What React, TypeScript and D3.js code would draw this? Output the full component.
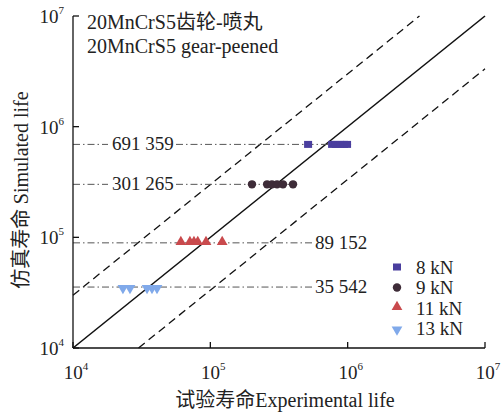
import React from 'react';
import * as d3 from 'd3';

// experimental lives (x) for each load, simulated life (y) is one value per load
const loads = ['8 kN', '9 kN', '11 kN', '13 kN'];
const simLife = [691359, 301265, 89152, 35542];
const simLabels = ['691 359', '301 265', '89 152', '35 542'];
const exp8 = [515000, 770000, 820000, 880000, 940000, 990000];
const exp9 = [201000, 259000, 281000, 306000, 338000, 400000];
const exp11 = [61000, 71000, 76000, 81000, 93000, 122000];
const exp13 = [23100, 26000, 34600, 37600, 40900];
const tickVals = [1e4, 1e5, 1e6, 1e7];
const tickExp = ['4', '5', '6', '7'];

const colors = ['#4a3e9e', '#3e2c38', '#c94a4d', '#80a9ea'];
const serif = '"Liberation Serif", "Times New Roman", serif';
const cjk = '"Noto Sans CJK SC", sans-serif';

const W = 504;
const H = 413;

const Marker = ({ kind, x, y, color }: { kind: number; x: number; y: number; color: string }) => {
  if (kind === 0) return <rect x={x - 4} y={y - 3.5} width={8} height={7} fill={color} />;
  if (kind === 1) return <circle cx={x} cy={y} r={4.2} fill={color} />;
  const sym = d3.symbol().type(d3.symbolTriangle).size(50)();
  return <path d={sym || ''} transform={`translate(${x},${y + (kind === 3 ? 1 : -1)}) rotate(${kind === 3 ? 180 : 0})`} fill={color} />;
};

export default function App() {
  const x = d3.scaleLog().domain([1e4, 1e7]).range([73, 485]);
  const y = d3.scaleLog().domain([1e4, 1e7]).range([348, 16]);
  const series = [exp8, exp9, exp11, exp13];

  // ±3x scatter band
  const diag = [1e4, 1e7];
  const upper: [number, number][] = [[1e4, 3e4], [1e7 / 3, 1e7]];
  const lower: [number, number][] = [[3e4, 1e4], [1e7, 1e7 / 3]];

  return (
    <svg width={W} height={H} style={{ position: 'absolute', left: 0, top: 0, background: '#fff' }}>
      {/* reference lines */}
      <line x1={x(diag[0])} y1={y(diag[0])} x2={x(diag[1])} y2={y(diag[1])} stroke="#111" strokeWidth={1.6} />
      {[upper, lower].map((l, i) => (
        <line key={i} x1={x(l[0][0])} y1={y(l[0][1])} x2={x(l[1][0])} y2={y(l[1][1])}
          stroke="#111" strokeWidth={1.3} strokeDasharray="8,5" />
      ))}

      {/* dash-dot simulated life lines with labels */}
      {simLife.map((v, i) => {
        const yy = y(v);
        const leftLabel = i < 2;
        const last = x(d3.max(series[i]) as number) + 4;
        const dash = '7,3,1.5,3';
        return (
          <g key={i}>
            {leftLabel ? (
              <>
                <line x1={73} x2={108} y1={yy} y2={yy} stroke="#555" strokeWidth={1} strokeDasharray={dash} />
                <line x1={176} x2={last} y1={yy} y2={yy} stroke="#555" strokeWidth={1} strokeDasharray={dash} />
                <text x={112} y={yy + 6} fontFamily={serif} fontSize={19} fill="#222">{simLabels[i]}</text>
              </>
            ) : (
              <>
                <line x1={73} x2={312} y1={yy} y2={yy} stroke="#555" strokeWidth={1} strokeDasharray={dash} />
                <text x={315} y={yy + 6} fontFamily={serif} fontSize={19} fill="#222">{simLabels[i]}</text>
              </>
            )}
          </g>
        );
      })}

      {/* points */}
      {series.map((s, i) => (
        <g key={i}>
          {s.map((e, j) => <Marker key={j} kind={i} x={x(e)} y={y(simLife[i])} color={colors[i]} />)}
        </g>
      ))}

      {/* axes */}
      <line x1={73} x2={73} y1={16} y2={348} stroke="#111" strokeWidth={1.3} />
      <line x1={73} x2={485} y1={348} y2={348} stroke="#111" strokeWidth={1.3} />
      {tickVals.map((t, i) => (
        <g key={'y' + i}>
          <line x1={73} x2={79} y1={y(t)} y2={y(t)} stroke="#111" strokeWidth={1.3} />
          <text x={64} y={y(t) + 7} textAnchor="end" fontFamily={serif} fontSize={19} fill="#222">
            10<tspan fontSize={11} dy={-9}>{tickExp[i]}</tspan>
          </text>
        </g>
      ))}
      {tickVals.map((t, i) => (
        <g key={'x' + i}>
          <line x1={x(t)} x2={x(t)} y1={348} y2={342} stroke="#111" strokeWidth={1.3} />
          <text x={x(t) + 3} y={379} textAnchor="middle" fontFamily={serif} fontSize={19} fill="#222">
            10<tspan fontSize={11} dy={-9}>{tickExp[i]}</tspan>
          </text>
        </g>
      ))}

      {/* axis titles */}
      <text x={285} y={407} textAnchor="middle" fontSize={20} fill="#222">
        <tspan fontFamily={cjk}>试验寿命</tspan><tspan fontFamily={serif}>Experimental life</tspan>
      </text>
      <text transform="translate(28,190) rotate(-90)" textAnchor="middle" fontSize={20} fill="#222">
        <tspan fontFamily={cjk}>仿真寿命 </tspan><tspan fontFamily={serif}>Simulated life</tspan>
      </text>

      {/* title */}
      <text x={87} y={29} fontSize={20} fill="#222">
        <tspan fontFamily={serif}>20MnCrS5</tspan><tspan fontFamily={cjk}>齿轮</tspan>
        <tspan fontFamily={serif}>-</tspan><tspan fontFamily={cjk}>喷丸</tspan>
      </text>
      <text x={87} y={53} fontFamily={serif} fontSize={20} fill="#222">20MnCrS5 gear-peened</text>

      {/* legend */}
      {loads.map((l, i) => (
        <g key={l}>
          <Marker kind={i} x={397} y={267 + i * 20.5} color={colors[i]} />
          <text x={416} y={273.5 + i * 20.5} fontFamily={serif} fontSize={19} fill="#222">{l}</text>
        </g>
      ))}
    </svg>
  );
}
